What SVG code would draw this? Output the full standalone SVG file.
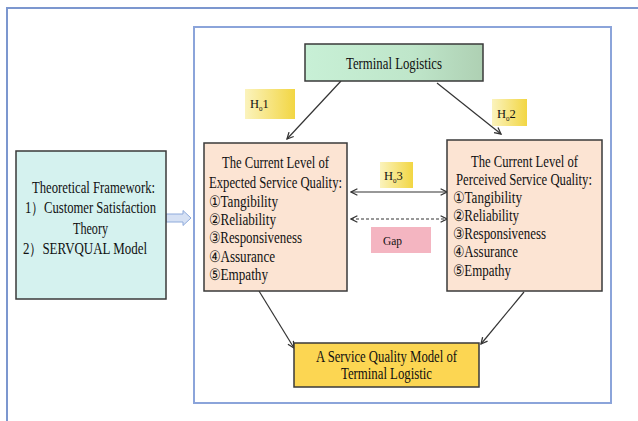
<svg xmlns="http://www.w3.org/2000/svg" width="638" height="421" viewBox="0 0 638 421">
<style>
text{font-family:"Liberation Serif","Times New Roman","DejaVu Serif",serif;fill:#111;font-size:16px}
.box{stroke:#3a3a3a;stroke-width:1.5}
.lbl{font-size:12.5px}
.sub{font-size:7px}
.conn{stroke:#333;stroke-width:1.2;fill:none}
</style>
<defs>
<linearGradient id="gGreen" x1="0" y1="0" x2="1" y2="0">
<stop offset="0" stop-color="#c8f0d6"/><stop offset="0.6" stop-color="#bfe6ca"/><stop offset="1" stop-color="#aed0b3"/>
</linearGradient>
<linearGradient id="gYel" x1="0" y1="0" x2="1" y2="0">
<stop offset="0" stop-color="#fbf3bd"/><stop offset="1" stop-color="#f2d643"/>
</linearGradient>
<marker id="ah" viewBox="0 0 10 10" refX="9" refY="5" markerWidth="8" markerHeight="8" markerUnits="userSpaceOnUse" orient="auto-start-reverse">
<path d="M1,1 L9,5 L1,9" fill="none" stroke="#333" stroke-width="1.6"/>
</marker>
</defs>
<rect width="638" height="421" fill="#ffffff"/>
<rect id="outer-frame" x="7" y="8" width="650" height="440" fill="none" stroke="#7c97cf" stroke-width="2"/>
<rect id="inner-frame" x="194" y="27" width="417" height="376" fill="none" stroke="#8ba4da" stroke-width="2"/>

<g id="connectors">
<line class="conn" x1="341" y1="81" x2="287" y2="139" marker-end="url(#ah)"/>
<line class="conn" x1="437" y1="83" x2="501" y2="134" marker-end="url(#ah)"/>
<line class="conn" x1="351" y1="192" x2="447" y2="192" marker-start="url(#ah)" marker-end="url(#ah)"/>
<line class="conn" x1="351" y1="219" x2="447" y2="219" stroke-dasharray="3 2" marker-start="url(#ah)" marker-end="url(#ah)"/>
<line class="conn" x1="259" y1="291" x2="294" y2="348" marker-end="url(#ah)"/>
<line class="conn" x1="524" y1="292" x2="481" y2="344" marker-end="url(#ah)"/>
<path id="block-arrow" d="M166,214 L183,214 L183,210.5 L191,218 L183,225.5 L183,222 L166,222 Z" fill="#d6e1f4" stroke="#8eaadb" stroke-width="1"/>
</g>

<g id="terminal-logistics">
<rect class="box" x="305" y="44" width="178" height="37" fill="url(#gGreen)"/>
<text x="394" y="68.5" text-anchor="middle" textLength="96" lengthAdjust="spacingAndGlyphs">Terminal Logistics</text>
</g>

<g id="h01">
<rect x="245" y="89" width="50" height="30" fill="url(#gYel)"/>
<text class="lbl" x="250" y="107.5">H<tspan class="sub" dy="3">0</tspan><tspan dy="-3">1</tspan></text>
</g>
<g id="h02">
<rect x="492" y="99" width="35" height="27" fill="url(#gYel)"/>
<text class="lbl" x="497" y="117.5">H<tspan class="sub" dy="3">0</tspan><tspan dy="-3">2</tspan></text>
</g>
<g id="h03">
<rect x="380" y="162" width="33" height="26" fill="url(#gYel)"/>
<text class="lbl" x="384" y="179.5">H<tspan class="sub" dy="3">0</tspan><tspan dy="-3">3</tspan></text>
</g>
<g id="gap">
<rect x="371" y="227" width="60" height="26" fill="#f4b5c1"/>
<text class="lbl" x="383" y="244.5" textLength="19" lengthAdjust="spacingAndGlyphs">Gap</text>
</g>

<g id="theoretical-framework">
<rect class="box" x="16" y="151" width="150" height="148" fill="#d5f2ef"/>
<text x="32" y="193" textLength="123" lengthAdjust="spacingAndGlyphs">Theoretical Framework:</text>
<text x="25" y="213" textLength="131" lengthAdjust="spacingAndGlyphs">1）Customer Satisfaction</text>
<text x="73" y="234" textLength="35" lengthAdjust="spacingAndGlyphs">Theory</text>
<text x="23" y="254" textLength="124" lengthAdjust="spacingAndGlyphs">2）SERVQUAL Model</text>
</g>

<g id="expected-quality">
<rect class="box" x="204" y="143" width="143" height="148" fill="#fce4d3"/>
<text x="222" y="168" textLength="107" lengthAdjust="spacingAndGlyphs">The Current Level of</text>
<text x="209" y="188" textLength="133" lengthAdjust="spacingAndGlyphs">Expected Service Quality:</text>
<text x="209" y="207" textLength="69" lengthAdjust="spacingAndGlyphs">①Tangibility</text>
<text x="209" y="225" textLength="67" lengthAdjust="spacingAndGlyphs">②Reliability</text>
<text x="209" y="243" textLength="93" lengthAdjust="spacingAndGlyphs">③Responsiveness</text>
<text x="209" y="262" textLength="66" lengthAdjust="spacingAndGlyphs">④Assurance</text>
<text x="209" y="280" textLength="59" lengthAdjust="spacingAndGlyphs">⑤Empathy</text>
</g>

<g id="perceived-quality">
<rect class="box" x="447" y="140" width="155" height="151" fill="#fce4d3"/>
<text x="471" y="167" textLength="107" lengthAdjust="spacingAndGlyphs">The Current Level of</text>
<text x="456" y="185" textLength="136" lengthAdjust="spacingAndGlyphs">Perceived Service Quality:</text>
<text x="453" y="203" textLength="69" lengthAdjust="spacingAndGlyphs">①Tangibility</text>
<text x="453" y="221" textLength="66" lengthAdjust="spacingAndGlyphs">②Reliability</text>
<text x="453" y="239" textLength="93" lengthAdjust="spacingAndGlyphs">③Responsiveness</text>
<text x="453" y="257" textLength="65" lengthAdjust="spacingAndGlyphs">④Assurance</text>
<text x="453" y="276" textLength="58" lengthAdjust="spacingAndGlyphs">⑤Empathy</text>
</g>

<g id="service-quality-model">
<rect class="box" x="294" y="343" width="185" height="44" fill="#fcd652"/>
<text x="316" y="362" textLength="141" lengthAdjust="spacingAndGlyphs">A Service Quality Model of</text>
<text x="341" y="379" textLength="91" lengthAdjust="spacingAndGlyphs">Terminal Logistic</text>
</g>
</svg>
